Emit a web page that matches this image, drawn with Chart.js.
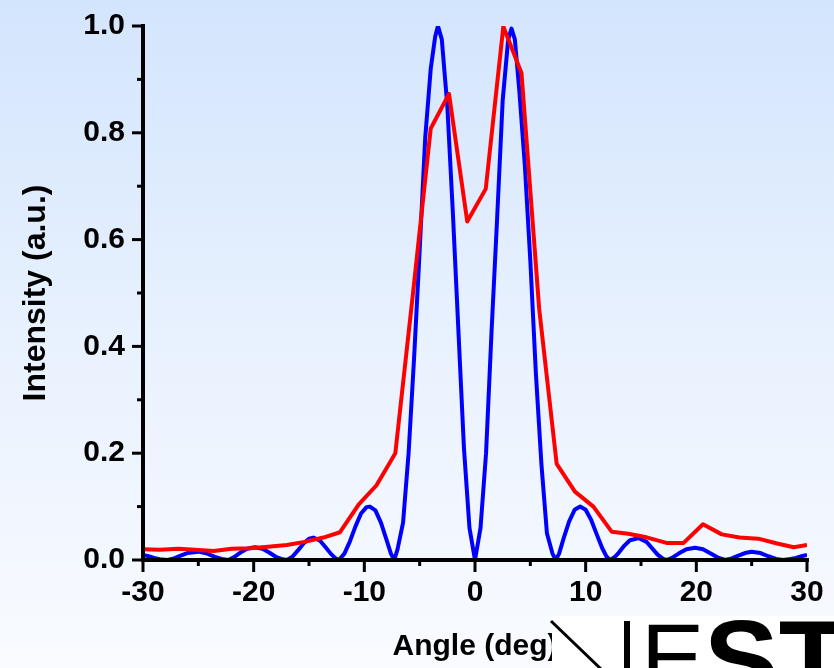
<!DOCTYPE html>
<html>
<head>
<meta charset="utf-8">
<script src="https://cdn.jsdelivr.net/npm/chart.js@4.4.1/dist/chart.umd.min.js"></script>
<style>
  html, body { margin: 0; padding: 0; background: #f8fbff; }
  canvas { display: block; }
</style>
</head>
<body>
<canvas id="chart" width="834" height="668"></canvas>
<script>
// Measured far-field intensity (red)
const measuredAngle = [-30, -28.5, -26.8, -25.3, -23.6, -22.0, -20.3, -18.7, -17.0, -15.4, -13.7, -12.2,
  -10.5, -8.9, -7.2, -5.6, -4.0, -2.35, -0.7, 0.97, 2.56, 4.2, 5.8, 7.38, 9.03, 10.7, 12.35, 13.85,
  15.5, 17.3, 18.85, 20.6, 22.3, 23.9, 25.6, 27.3, 28.8, 30];
const measuredIntensity = [0.020, 0.019, 0.021, 0.019, 0.017, 0.021, 0.022, 0.025, 0.028, 0.034, 0.042, 0.052,
  0.104, 0.140, 0.200, 0.500, 0.808, 0.873, 0.634, 0.695, 0.999, 0.912, 0.470, 0.180, 0.128, 0.100, 0.053, 0.049,
  0.0425, 0.032, 0.032, 0.067, 0.048, 0.042, 0.040, 0.031, 0.024, 0.028];

// Simulated intensity (blue)
const simulatedAngle = [-30, -29.5, -29.0, -28.5, -27.8, -27.2, -26.6, -26.0, -25.0, -24.2, -23.5, -22.9,
  -22.3, -21.8, -21.2, -20.6, -19.9, -19.2, -18.6, -18.0, -17.5, -17.0, -16.5, -16.0, -15.5, -15.0, -14.6,
  -14.0, -13.5, -13.0, -12.6, -12.3, -11.8, -11.3, -10.8, -10.3, -9.8, -9.5, -9.0, -8.5, -8.0, -7.6, -7.3,
  -7.0, -6.5, -6.0, -5.5, -5.0, -4.5, -4.0, -3.6, -3.35, -3.0, -2.5, -2.0, -1.5, -1.0, -0.5, 0,
  0.5, 1.0, 1.5, 2.0, 2.5, 3.0, 3.3, 3.6, 4.0, 4.5, 5.0, 5.5, 6.0, 6.5, 7.0, 7.3,
  7.6, 8.0, 8.5, 9.0, 9.5, 10.0, 10.5, 11.0, 11.5, 11.9, 12.2, 12.6, 13.0, 13.5, 14.0, 14.8, 15.5,
  16.0, 16.5, 17.0, 17.3, 17.8, 18.4, 19.1, 19.9, 20.6, 21.3, 21.9, 22.6, 23.2, 23.8, 24.4, 25.0,
  25.8, 26.5, 27.2, 27.86, 28.5, 29.0, 29.5, 30];
const simulatedIntensity = [0.0094, 0.007, 0.004, 0.0015, 0, 0.003, 0.008, 0.013, 0.0156, 0.012, 0.006, 0.002,
  0, 0.005, 0.014, 0.021, 0.024, 0.021, 0.014, 0.006, 0.002, 0, 0.006, 0.018, 0.031, 0.040, 0.042,
  0.036, 0.024, 0.011, 0.003, 0, 0.012, 0.035, 0.063, 0.087, 0.099, 0.100, 0.093, 0.070, 0.038, 0.012, 0,
  0.020, 0.070, 0.200, 0.380, 0.580, 0.790, 0.920, 0.980, 1.000, 0.975, 0.850, 0.650, 0.430, 0.210, 0.060, 0,
  0.060, 0.200, 0.430, 0.640, 0.860, 0.975, 0.995, 0.975, 0.880, 0.740, 0.560, 0.350, 0.180, 0.050, 0.012, 0,
  0.012, 0.040, 0.072, 0.094, 0.100, 0.094, 0.075, 0.048, 0.022, 0.006, 0, 0.005, 0.014, 0.027, 0.037, 0.041, 0.034,
  0.022, 0.010, 0.002, 0, 0.004, 0.012, 0.020, 0.023, 0.020, 0.012, 0.005, 0, 0.003, 0.008, 0.013, 0.0156,
  0.013, 0.007, 0.002, 0, 0.002, 0.004, 0.007, 0.0094];

// Axis ranges and tick labels
const angleRange = [-30, 30];
const intensityRange = [0, 1];
const angleTickLabels = ['-30', '-20', '-10', '0', '10', '20', '30'];
const intensityTickLabels = ['0.0', '0.2', '0.4', '0.6', '0.8', '1.0'];

const FONT = '"Liberation Sans", Arial, Helvetica, sans-serif';

function toPoints(xs, ys) {
  return xs.map((x, i) => ({ x: x, y: ys[i] }));
}

// Let the layout padding alone decide where the plot area sits
function clearEdgePadding(scale) {
  scale.paddingTop = 0;
  scale.paddingBottom = 0;
  scale.paddingLeft = 0;
  scale.paddingRight = 0;
}

// Soft blue-to-white page background
const backdrop = {
  id: 'backdrop',
  beforeDraw(chart) {
    const { ctx, width, height } = chart;
    const g = ctx.createLinearGradient(0, 0, 0, height);
    g.addColorStop(0, '#d3e5fd');
    g.addColorStop(0.5, '#e8f1fe');
    g.addColorStop(1, '#f9fbff');
    ctx.save();
    ctx.fillStyle = g;
    ctx.fillRect(0, 0, width, height);
    ctx.restore();
  }
};

// L-shaped axes with outward major and minor ticks
const axisFrame = {
  id: 'axisFrame',
  afterDraw(chart) {
    const { ctx } = chart;
    const xs = chart.scales.x, ys = chart.scales.y;
    const left = xs.getPixelForValue(angleRange[0]);
    const right = xs.getPixelForValue(angleRange[1]);
    const bottom = ys.getPixelForValue(intensityRange[0]);
    const top = ys.getPixelForValue(intensityRange[1]);
    const seg = (x1, y1, x2, y2) => { ctx.beginPath(); ctx.moveTo(x1, y1); ctx.lineTo(x2, y2); ctx.stroke(); };
    ctx.save();
    ctx.strokeStyle = '#000';
    ctx.lineWidth = 3;
    ctx.lineCap = 'butt';
    for (let v = angleRange[0]; v <= angleRange[1]; v += 5) {
      const px = xs.getPixelForValue(v);
      seg(px, bottom, px, bottom + (v % 10 === 0 ? 12 : 6));
    }
    for (let k = 0; k <= 10; k++) {
      const py = ys.getPixelForValue(k / 10);
      seg(left - (k % 2 === 0 ? 11 : 6), py, left, py);
    }
    ctx.lineWidth = 4;
    ctx.lineCap = 'square';
    seg(left, top, left, bottom);
    seg(left, bottom, right, bottom);
    ctx.restore();
  }
};

// NEST wordmark in the lower right corner
const wordmark = {
  id: 'wordmark',
  afterDraw(chart) {
    const { ctx } = chart;
    ctx.save();
    ctx.fillStyle = '#ffffff';
    ctx.fillRect(552, 616, 282, 52);
    ctx.strokeStyle = '#000';
    ctx.fillStyle = '#000';
    ctx.lineWidth = 3;
    ctx.beginPath();
    ctx.moveTo(551, 621);
    ctx.lineTo(601, 669);
    ctx.stroke();
    ctx.fillRect(624, 621, 6, 47);
    ctx.textBaseline = 'alphabetic';
    ctx.textAlign = 'left';
    ctx.font = '95px ' + FONT;
    ctx.fillText('E', 641, 690);
    ctx.font = 'bold 112px ' + FONT;
    ctx.fillText('ST', 704, 698);
    ctx.restore();
  }
};

new Chart(document.getElementById('chart'), {
  type: 'line',
  data: {
    datasets: [
      {
        label: 'Measured',
        data: toPoints(measuredAngle, measuredIntensity),
        borderColor: '#ff0000',
        borderWidth: 4,
        pointRadius: 0,
        tension: 0,
        borderJoinStyle: 'round',
        fill: false
      },
      {
        label: 'Simulated',
        data: toPoints(simulatedAngle, simulatedIntensity),
        borderColor: '#0000ff',
        borderWidth: 4,
        pointRadius: 0,
        tension: 0,
        borderJoinStyle: 'round',
        fill: false
      }
    ]
  },
  options: {
    responsive: false,
    animation: false,
    devicePixelRatio: 1,
    layout: { padding: { top: 26, right: 27, left: 0, bottom: 0 } },
    plugins: { legend: { display: false }, tooltip: { enabled: false } },
    scales: {
      x: {
        type: 'linear',
        min: angleRange[0],
        max: angleRange[1],
        grid: { display: false, drawTicks: false },
        border: { display: false },
        afterFit(scale) { scale.height = 108; clearEdgePadding(scale); },
        ticks: {
          stepSize: 10,
          autoSkip: false,
          maxRotation: 0,
          padding: 15,
          color: '#000',
          font: { family: FONT, size: 30, weight: 'bold' },
          callback: (v) => angleTickLabels[Math.round((v - angleRange[0]) / 10)]
        },
        title: {
          display: true,
          text: 'Angle (deg)',
          color: '#000',
          font: { family: FONT, size: 30, weight: 'bold' },
          padding: { top: 0, bottom: 3 }
        }
      },
      y: {
        min: intensityRange[0],
        max: intensityRange[1],
        grid: { display: false, drawTicks: false },
        border: { display: false },
        afterFit(scale) { scale.width = 143; clearEdgePadding(scale); },
        ticks: {
          stepSize: 0.2,
          autoSkip: false,
          padding: 18,
          color: '#000',
          font: { family: FONT, size: 30, weight: 'bold' },
          callback: (v) => intensityTickLabels[Math.round(v / 0.2)]
        },
        title: {
          display: true,
          text: 'Intensity (a.u.)',
          color: '#000',
          font: { family: FONT, size: 32, weight: 'bold' },
          padding: { top: 17, bottom: 0 }
        }
      }
    }
  },
  plugins: [backdrop, axisFrame, wordmark]
});
</script>
</body>
</html>
